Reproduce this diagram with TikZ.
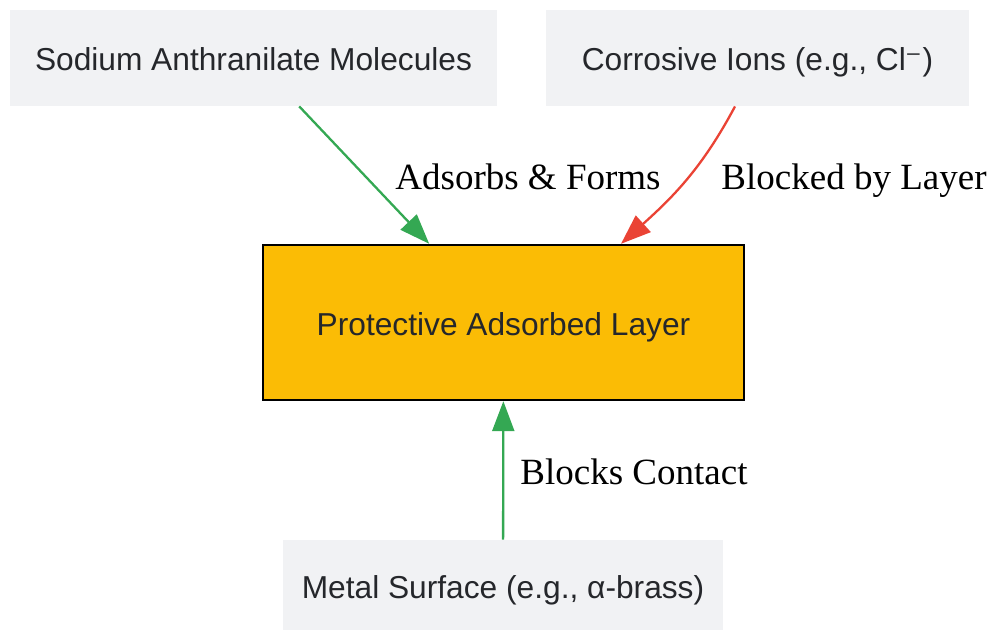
\documentclass[tikz,border=0pt]{standalone}
\usepackage{fontspec}
\setmainfont{Liberation Serif}
\newfontfamily\boxfont{Liberation Sans}
\newfontfamily\symfont{DejaVu Sans}
\usetikzlibrary{arrows.meta}

\definecolor{boxgrey}{HTML}{F1F2F4}
\definecolor{layeryellow}{HTML}{FBBC05}
\definecolor{okgreen}{HTML}{34A853}
\definecolor{badred}{HTML}{EA4335}
\definecolor{boxtext}{HTML}{25272B}

\tikzset{
    plainbox/.style={fill=boxgrey, inner sep=0pt, text=boxtext,
        text height=13pt, text depth=0pt,
        font=\boxfont\fontsize{15.85pt}{18pt}\selectfont},
    layerbox/.style={plainbox, fill=layeryellow, draw=black, line width=1.2pt},
    link/.style={line width=1.15pt, -{Triangle[length=15pt,width=11pt]}},
    tag/.style={text height=12pt, text depth=0pt,
        font=\fontsize{18.5pt}{21pt}\selectfont},
}

\begin{document}
\begin{tikzpicture}[x=0.5pt, y=-0.5pt]
    \useasboundingbox (0,0) rectangle (989,630);

    \node[plainbox, minimum width=243.5pt, minimum height=48pt] (sodium) at (253.5, 58) {Sodium Anthranilate Molecules};
    \node[plainbox, minimum width=211.5pt, minimum height=48pt] (ions) at (757.5, 58) {Corrosive Ions (e.g., Cl{\symfont ⁻})};
    \node[layerbox, minimum width=240.5pt, minimum height=77.5pt] (layer) at (503.5, 322.5) {Protective Adsorbed Layer};
    \node[plainbox, minimum width=220pt, minimum height=45pt] (metal) at (503, 585) {Metal Surface (e.g., α-brass)};

    \draw[link, okgreen] (sodium) -- (layer);
    \draw[link, badred] ([xshift=-11.25pt]ions.south) to[out=-118, in=42] ([xshift=58.75pt]layer.north);
    \draw[link, okgreen] (metal) -- (layer);

    \node[tag] (formslabel) at (528, 178) {Adsorbs \& Forms};
    \node[tag] (blockedlabel) at (854, 178) {Blocked by Layer};
    \node[tag] (contactlabel) at (634, 472) {Blocks Contact};
\end{tikzpicture}
\end{document}
